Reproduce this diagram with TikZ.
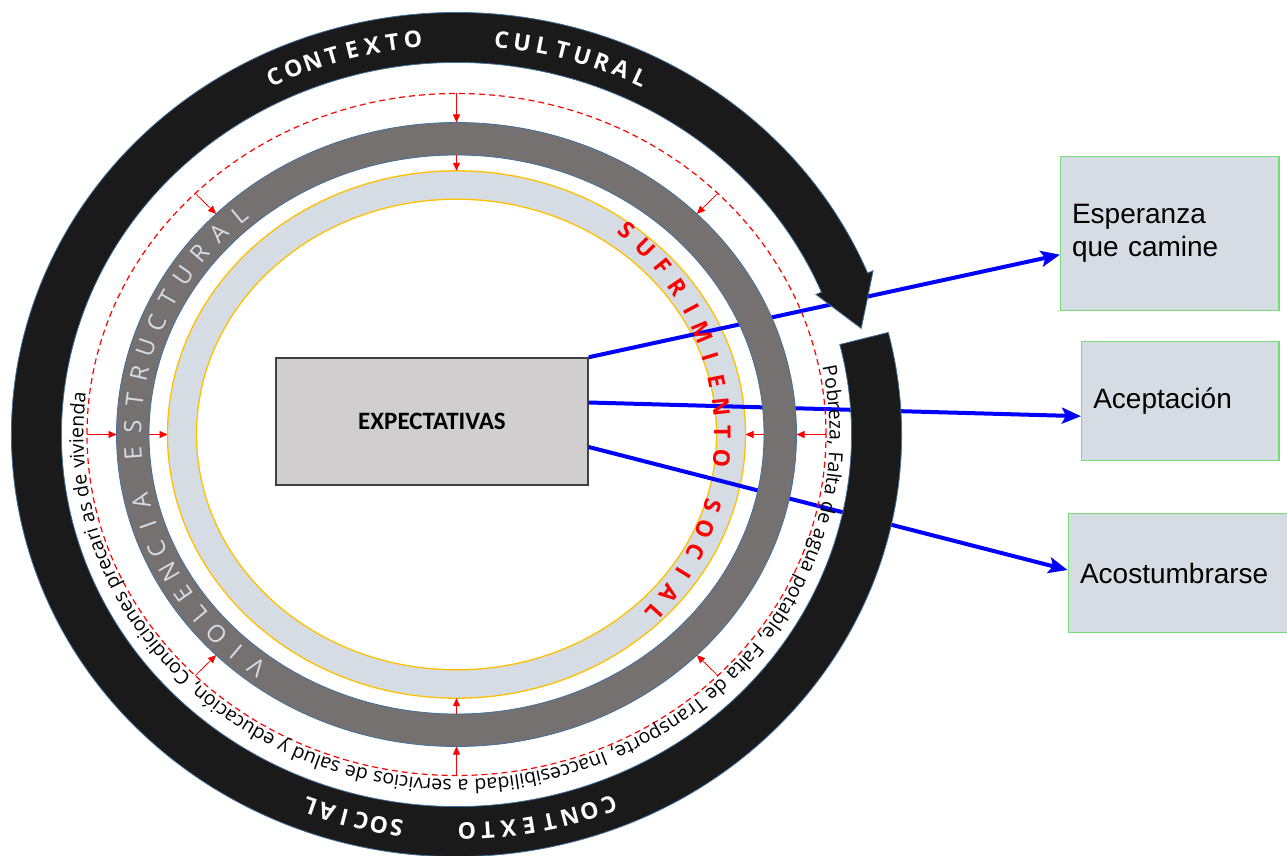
\documentclass[tikz,border=0pt]{standalone}
\usepackage{fontspec}
\setmainfont{Open Sans}
\newfontfamily\osans{Open Sans}
\newfontfamily\carlito{Carlito}
\newfontfamily\lsans{Liberation Sans}
\usetikzlibrary{calc,arrows.meta,decorations.text}

\definecolor{ringblack}{HTML}{1A1A1A}
\definecolor{ringgray}{HTML}{767171}
\definecolor{ringedge}{HTML}{41719C}
\definecolor{paleblue}{HTML}{D6DCE4}
\definecolor{amber}{HTML}{FFC000}
\definecolor{boxgray}{HTML}{D0CECE}
\definecolor{boxedge}{HTML}{404040}
\definecolor{leafgreen}{HTML}{77DD77}
\definecolor{pureblue}{HTML}{0000FF}

% Letters set one by one along an ellipse around (C), reading clockwise:
% #1 x radius, #2 y radius, #3 first angle, #4 angle step, #5 style, #6 name prefix, #7 letters
\newcommand\ringword[7]{%
  \foreach \ch [count=\k from 0] in {#7} {%
    \pgfmathsetmacro\ltang{#3-\k*#4}%
    \pgfmathsetmacro\ltrot{atan2(#1*sin(\ltang),#2*cos(\ltang))-90}%
    \node[#5,rotate=\ltrot] (#6-\k) at ($(C)+(\ltang:#1 and #2)$) {\ch};%
  }}

\begin{document}
\begin{tikzpicture}[x=1pt,y=1pt,
  blackltr/.style={font=\osans\bfseries\fontsize{23}{23}\selectfont, text=white, inner sep=0},
  grayltr/.style={font=\osans\fontsize{24}{24}\selectfont, text=paleblue, inner sep=0},
  redltr/.style={font=\osans\bfseries\fontsize{23}{23}\selectfont, text=red, inner sep=0},
  redarrow/.style={draw=red, line width=0.8, -{Triangle[length=8pt,width=7pt]}},
  flow/.style={draw=pureblue, line width=4, -{Stealth[length=19pt,width=16pt,inset=4pt]}},
  outcome/.style={draw=leafgreen, fill=paleblue, line width=1.5, inner ysep=0,
    align=left, font=\lsans\fontsize{28}{33}\selectfont},
  ringfill/.style={even odd rule}]

\useasboundingbox (0,0) rectangle (1287,855);
\fill[white] (0,0) rectangle (1287,855);
\coordinate (C) at (456.5,420.5);

% inner pale ring with amber rims
\fill[paleblue, ringfill] (C) ellipse[x radius=289, y radius=263.7]
                          (C) ellipse[x radius=260, y radius=235.3];
\draw[amber, line width=1.3] (C) ellipse[x radius=289, y radius=263.7];
\draw[amber, line width=1.3] (C) ellipse[x radius=260, y radius=235.3];

% central box
\node[draw=boxedge, fill=boxgray, line width=1.5, minimum width=312, minimum height=127,
      inner sep=0, font=\carlito\bfseries\fontsize{25}{25}\selectfont] (exp) at (432,433.5) {EXPECTATIVAS};

% outcome boxes
\node[outcome, text width=195.7, inner xsep=11.3, minimum height=154] (b1) at (1169.85,621.3)
  {Esperanza\\que camine};
\node[outcome, text width=174.1, inner xsep=11.6, minimum height=119] (b2) at (1180.35,453.8)
  {Aceptación};
\node[outcome, text width=198.3, inner xsep=11.7, minimum height=119.4] (b3) at (1179.15,282)
  {Acostumbrarse};

% blue connectors
\draw[flow] (exp.north east) -- ([yshift=-21]b1.west);
\draw[flow] ([yshift=19]exp.east) -- ([yshift=-15]b2.west);
\draw[flow] ([yshift=-25.5]exp.east) -- ([yshift=3]b3.west);

% SUFRIMIENTO SOCIAL
\ringword{266}{266}{50.2}{5.53}{redltr}{suf}{S,U,F,R,I,M,I,E,N,T,O}
\ringword{266}{266}{-15.6}{5.28}{redltr}{soc}{S,O,C,I,A,L}

% gray ring
\fill[ringgray, ringfill] (C) ellipse[x radius=340, y radius=312]
                          (C) ellipse[x radius=307.5, y radius=279.5];
\draw[ringedge, line width=0.8] (C) ellipse[x radius=340, y radius=312];
\draw[ringedge, line width=0.8] (C) ellipse[x radius=307.5, y radius=279.5];
\ringword{324}{296}{232}{4.875}{grayltr}{vio}{V,I,O,L,E,N,C,I,A}
\ringword{324}{296}{183.66}{5.166}{grayltr}{est}{E,S,T,R,U,C,T,U,R,A,L}

% dashed boundary and pressure arrows
\draw[red, line width=1.2, dash pattern=on 6pt off 4pt] (C) ellipse[x radius=369.5, y radius=341];
\foreach \a/\n in {0/e,45/ne,90/n,135/nw,180/w,225/sw,270/s,315/se}{
  \coordinate (d\n) at ($(C)+(\a:369.5 and 341)$);
  \coordinate (g\n) at ($(C)+(\a:340 and 312)$);
  \draw[redarrow] (d\n) -- (g\n);
}
\foreach \a/\n in {0/e,90/n,180/w,270/s}{
  \coordinate (h\n) at ($(C)+(\a:307.5 and 279.5)$);
  \coordinate (o\n) at ($(C)+(\a:289 and 263.7)$);
  \draw[redarrow] (h\n) -- (o\n);
}

% outer circular arrow
\fill[ringblack, draw=ringedge, line width=0.8]
  ($(C)+(14:445 and 422)$) arc[start angle=14, end angle=-337.5, x radius=445, y radius=422]
  -- ($(C)+(22.5:451 and 428)$) -- ($(C)+(15.5:420 and 397)$)
  -- ($(C)+(22.5:389 and 366)$) -- ($(C)+(22.5:395 and 372)$)
  arc[start angle=22.5, end angle=374, x radius=395, y radius=372] -- cycle;
\ringword{420}{397}{115.7}{2.82}{blackltr}{ctop}{C,O,N,T,E,X,T,O}
\ringword{420}{397}{83.8}{2.81}{blackltr}{cul}{C,U,L,T,U,R,A,L}
\ringword{420}{397}{-68.7}{2.84}{blackltr}{cbot}{C,O,N,T,E,X,T,O}
\ringword{420}{397}{-98.2}{2.44}{blackltr}{soc2}{S,O,C,I,A,L}

% conditions written along the dashed boundary
\path[decorate, decoration={text along path, text align=fit to path stretching spaces,
  text={|\osans\fontsize{19.5}{19.5}\selectfont|Pobreza, Falta de agua potable, Falta de Transporte, Inaccesibilidad a servicios de salud y educación, Condiciones precari as de vivienda}}]
  ($(C)+(11.3:373 and 345)$) arc[start angle=11.3, end angle=-186.9, x radius=373, y radius=345];

\end{tikzpicture}
\end{document}
